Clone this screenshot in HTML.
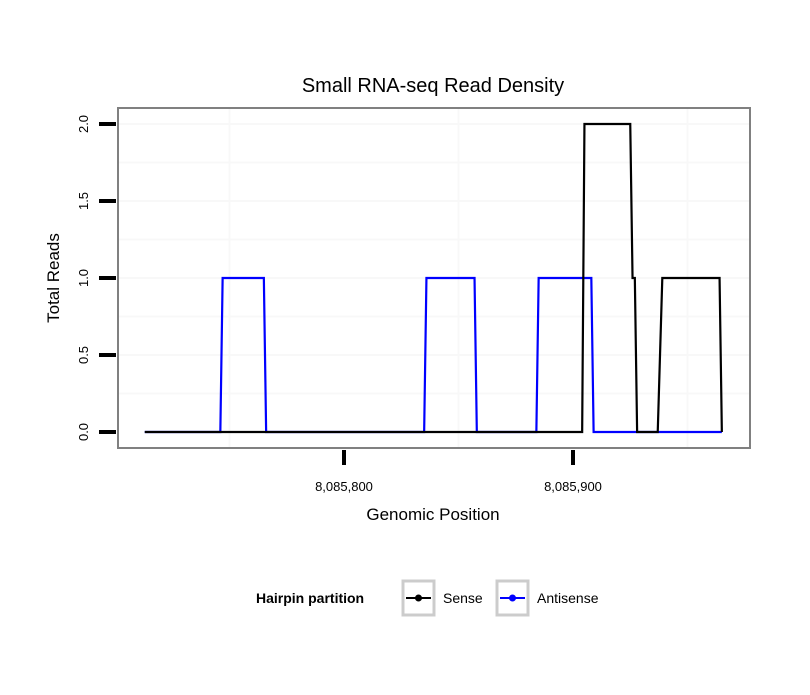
<!DOCTYPE html>
<html><head><meta charset="utf-8"><style>
body{margin:0;background:#fff}
svg text{font-family:"Liberation Sans",Arial,sans-serif}
</style></head><body>
<svg id="chart" width="810" height="690" xmlns="http://www.w3.org/2000/svg">
<rect width="810" height="690" fill="#fff"/>
<text x="433" y="92" font-size="20" text-anchor="middle">Small RNA-seq Read Density</text>
<g id="grid"></g>
<g id="series"></g>
<rect x="118" y="108" width="632" height="340" fill="none" stroke="#808080" stroke-width="2"/>
<g id="axes"></g>
<text x="433" y="520" font-size="17" text-anchor="middle">Genomic Position</text>
<text transform="translate(59,278) rotate(-90)" font-size="17" text-anchor="middle">Total Reads</text>
<g>
<text x="256" y="603" font-size="14" font-weight="bold">Hairpin partition</text>
<g>
<rect x="403" y="581" width="31" height="34" fill="#fff" stroke="#ccc" stroke-width="3"/>
<line x1="406" y1="598" x2="431" y2="598" stroke="#000" stroke-width="2"/>
<circle cx="418.5" cy="598" r="3.5" fill="#000"/>
<text x="443" y="603" font-size="14">Sense</text>
</g>
<g>
<rect x="497" y="581" width="31" height="34" fill="#fff" stroke="#ccc" stroke-width="3"/>
<line x1="500" y1="598" x2="525" y2="598" stroke="#00f" stroke-width="2"/>
<circle cx="512.5" cy="598" r="3.5" fill="#00f"/>
<text x="537" y="603" font-size="14">Antisense</text>
</g>
</g>
</svg>
<script>
const senseX=[8085713,8085904,8085905,8085925,8085926,8085927,8085928,8085937,8085939,8085964,8085965];
const senseY=[0,0,2,2,1,1,0,0,1,1,0];
const antiX=[8085713,8085746,8085747,8085765,8085766,8085835,8085836,8085857,8085858,8085884,8085885,8085908,8085909,8085965];
const antiY=[0,0,1,1,0,0,1,1,0,0,1,1,0,0];
const xTicks=[8085800,8085900];
const xTickLabels=["8,085,800","8,085,900"];
const yTicks=[0,0.5,1,1.5,2];
const yTickLabels=["0.0","0.5","1.0","1.5","2.0"];
const NS="http://www.w3.org/2000/svg";
const sx=v=>344+(v-8085800)*2.29;
const sy=v=>432-v*154;
function mk(tag,attrs,parent){const e=document.createElementNS(NS,tag);for(const k in attrs)e.setAttribute(k,attrs[k]);parent.appendChild(e);return e;}
const grid=document.getElementById('grid'),axes=document.getElementById('axes'),series=document.getElementById('series');
for(let v=0.25;v<2.2;v+=0.25){const y=sy(v);if(y<110)continue;
 const l=mk('line',{x1:119,x2:749,y1:y,y2:y,stroke:'#f8f8f8','stroke-width':2},grid);
 
 }
[8085750,8085850,8085950].forEach(v=>{const x=sx(v);
 const l=mk('line',{x1:x,x2:x,y1:109,y2:447,stroke:'#f8f8f8','stroke-width':2},grid);
 
 });
yTicks.forEach((v,i)=>{const y=sy(v);
 const t=mk('line',{x1:99,x2:116,y1:y,y2:y,stroke:'#000','stroke-width':4},axes);
 
 
 const tx=mk('text',{transform:`translate(88,${y}) rotate(-90)`,'font-size':13,'text-anchor':'middle'},axes);
 tx.textContent=yTickLabels[i];
 
 });
xTicks.forEach((v,i)=>{const x=sx(v);
 const t=mk('line',{x1:x,x2:x,y1:450,y2:465,stroke:'#000','stroke-width':4},axes);
 
 
 const tx=mk('text',{x:x,y:491,'font-size':13,'text-anchor':'middle'},axes);
 tx.textContent=xTickLabels[i];
 
 });
function line(xs,ys,color,name){const p=mk('polyline',{points:xs.map((x,i)=>sx(x)+','+sy(ys[i])).join(' '),fill:'none',stroke:color,'stroke-width':2.2,'stroke-linejoin':'miter'},series);
 
 }
line(antiX,antiY,'#00f','antisense-line');
line(senseX,senseY,'#000','sense-line');
</script>
</body></html>
